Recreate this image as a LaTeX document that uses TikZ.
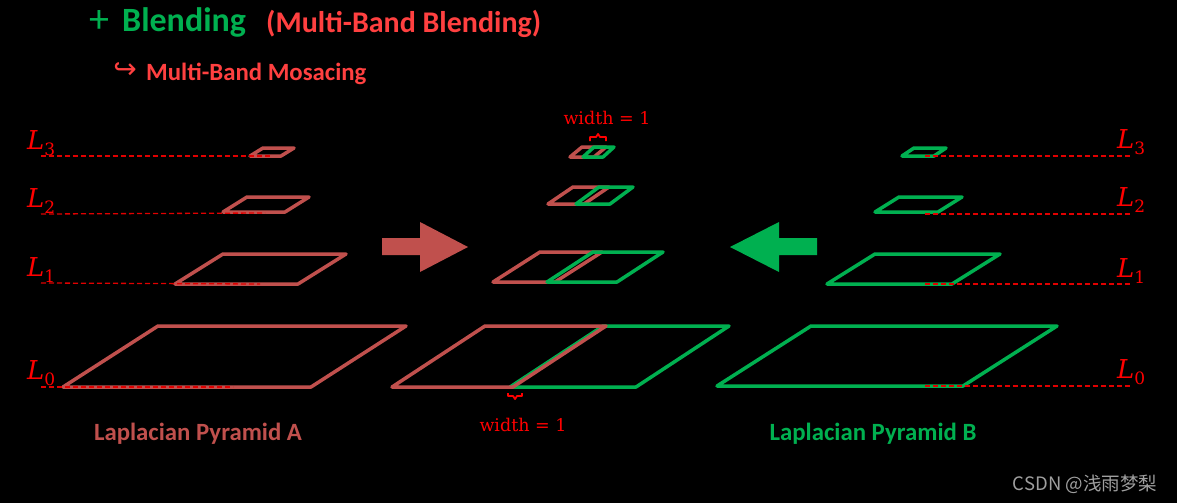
\documentclass[tikz,border=0pt]{standalone}
\usepackage{fontspec}
\newfontfamily\carl{Carlito}
\newfontfamily\cjkf{Noto Sans CJK SC}
\newfontfamily\dser{DejaVu Serif}
\newfontfamily\dsan{DejaVu Sans}
\definecolor{cA}{HTML}{C0504D}
\definecolor{cB}{HTML}{00B050}
\definecolor{cT}{HTML}{FF4040}
\definecolor{cR}{HTML}{FF0000}
\definecolor{cD}{HTML}{E00000}
\newcommand\mypara[6]{\draw[pyr,draw=#1] (#2,#3) -- ++(#4,0) -- ++(#5,-#6) -- ++(-#4,0) -- cycle;}
\newcommand\lvlab[1]{{\itshape L}\raisebox{-6pt}{\fontsize{17}{17}\selectfont #1}}
\tikzset{
  pyr/.style={line width=3.5pt, line join=round, line cap=round},
  lvl/.style={draw=cD, line width=1.3pt, dash pattern=on 5pt off 3pt},
  lab/.style={text=cR, inner sep=0pt, font=\dser\fontsize{26}{26}\selectfont},
  wtxt/.style={text=cR, inner sep=0pt, font=\dser\fontsize{17.5}{17.5}\selectfont},
  brc/.style={draw=cR, line width=1.8pt, line join=round},
  ttl/.style={inner sep=0pt, font=\carl\bfseries\fontsize{34}{34}\selectfont},
}
\begin{document}
\begin{tikzpicture}[x=1pt,y=-1pt]
\fill[black] (0,0) rectangle (1177,503);
\useasboundingbox (0,0) rectangle (1177,503);

% titles
\node[text=cB, inner sep=0pt, font=\carl\fontsize{40}{40}\selectfont] (plus) at (99,22) {+};
\node[ttl, text=cB, anchor=base west] (blend) at (122,32) {Blending};
\node[ttl, text=cT, anchor=base west, font=\carl\bfseries\fontsize{30}{30}\selectfont] (mbb) at (266,33) {(Multi-Band Blending)};
\node[text=cT, inner sep=0pt, font=\dsan\fontsize{28}{28}\selectfont] (hook) at (125,71) {↪};
\node[ttl, text=cT, anchor=base west, font=\carl\bfseries\fontsize{24.8}{24.8}\selectfont] (mbm) at (146,80) {Multi-Band Mosacing};

% pyramid A
\mypara{cA}{250}{156}{31}{13}{8}
\mypara{cA}{223}{212}{62}{24}{15}
\mypara{cA}{175}{284}{123}{48}{30}
\mypara{cA}{63}{387}{248}{95}{61}

% pyramid B
\mypara{cB}{902}{156}{32}{12}{8}
\mypara{cB}{875}{212}{63}{24}{15}
\mypara{cB}{827}{284}{125}{48}{30}
\mypara{cB}{717}{386}{246}{94}{60}

% blended pyramid
\mypara{cA}{570}{157}{24}{12}{10}
\mypara{cB}{583}{157}{20}{11}{10}
\mypara{cA}{548}{204}{36}{25}{17}
\mypara{cB}{576}{204}{34}{23}{17}
\mypara{cA}{493}{282}{62}{47}{30}
\mypara{cB}{547}{282}{70}{46}{30}
\mypara{cB}{510}{387}{126}{93}{61}
\mypara{cA}{392}{387}{121}{93}{61}

% level labels
\node[lab, anchor=base west] (la3) at (27,149) {\lvlab{3}};
\node[lab, anchor=base west] (la2) at (27,207) {\lvlab{2}};
\node[lab, anchor=base west] (la1) at (27,276) {\lvlab{1}};
\node[lab, anchor=base west] (la0) at (27,379) {\lvlab{0}};
\node[lab, anchor=base west] (lb3) at (1117,148) {\lvlab{3}};
\node[lab, anchor=base west] (lb2) at (1117,206) {\lvlab{2}};
\node[lab, anchor=base west] (lb1) at (1117,277) {\lvlab{1}};
\node[lab, anchor=base west] (lb0) at (1117,378) {\lvlab{0}};

% dashed level lines
\coordinate (da3s) at (41,156); \coordinate (da3e) at (272,156);
\coordinate (da2s) at (41,214); \coordinate (da2e) at (265,213);
\coordinate (da1s) at (41,283); \coordinate (da1e) at (260,284);
\coordinate (da0s) at (41,387); \coordinate (da0e) at (233,387);
\coordinate (db3s) at (925,156); \coordinate (db3e) at (1132,156);
\coordinate (db2s) at (925,214); \coordinate (db2e) at (1132,214);
\coordinate (db1s) at (925,284); \coordinate (db1e) at (1132,284);
\coordinate (db0s) at (925,386); \coordinate (db0e) at (1132,386);
\foreach \p in {da3,da2,da1,da0,db3,db2,db1,db0}{\draw[lvl] (\p s) -- (\p e);}

% block arrows
\fill[cA] (382,238) -- (420,238) -- (420,222) -- (468,247) -- (420,272) -- (420,255) -- (382,255) -- cycle;
\fill[cB] (817,238) -- (779,238) -- (779,222) -- (730,247) -- (779,272) -- (779,255) -- (817,255) -- cycle;

% width annotations
\node[wtxt] (wtop) at (607,118) {width = 1};
\node[wtxt] (wbot) at (523,425) {width = 1};
\draw[brc] (590,141) -- (590,137) -- (596,137) -- (598,134) -- (600,137) -- (606,137) -- (606,141);
\draw[brc] (508,393) -- (508,396) -- (513,396) -- (515,399) -- (517,396) -- (522,396) -- (522,393);

% pyramid names
\node[ttl, text=cA, font=\carl\bfseries\fontsize{24.8}{24.8}\selectfont] (pa) at (198,434) {Laplacian Pyramid A};
\node[ttl, text=cB, font=\carl\bfseries\fontsize{24.8}{24.8}\selectfont] (pb) at (873,434) {Laplacian Pyramid B};

% watermark
\node[inner sep=0pt, text=gray!75, font=\cjkf\fontsize{18.5}{18.5}\selectfont] (wm) at (1085,484) {CSDN @浅雨梦梨};
\end{tikzpicture}
\end{document}
